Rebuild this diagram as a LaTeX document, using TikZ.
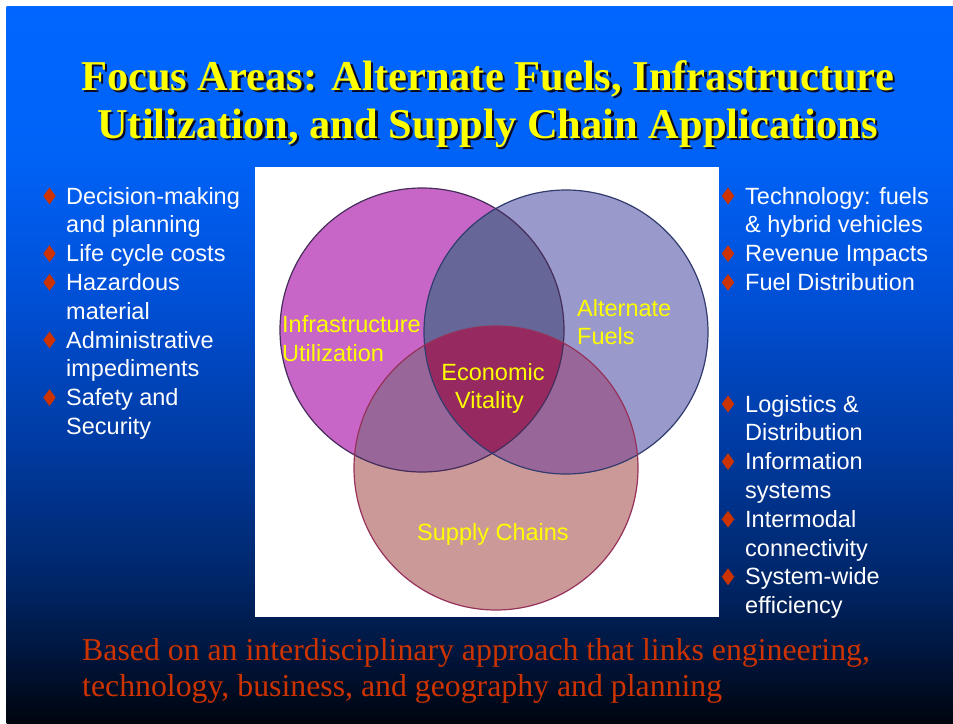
\documentclass[tikz,border=0pt]{standalone}
\usepackage{fontspec}
\setmainfont{Liberation Serif}
\newfontfamily\slideSans{Liberation Sans}
\usepackage{tikz}
\usetikzlibrary{positioning, shapes.geometric}
\definecolor{colorTitle}{RGB}{255,255,0}
\definecolor{colorTitleShadow}{RGB}{10,10,40}
\definecolor{colorBullet}{RGB}{204,51,0}
\definecolor{colorNote}{RGB}{204,51,0}
\definecolor{colorLabel}{RGB}{255,255,0}
\definecolor{colorInfra}{RGB}{200,102,200}
\definecolor{colorFuels}{RGB}{153,153,204}
\definecolor{colorSupply}{RGB}{204,153,153}
\definecolor{colorInfraFuels}{RGB}{102,102,153}
\definecolor{colorInfraSupply}{RGB}{153,102,153}
\definecolor{colorFuelsSupply}{RGB}{153,102,153}
\definecolor{colorCore}{RGB}{150,42,96}
\definecolor{colorInfraLine}{RGB}{70,45,90}
\definecolor{colorFuelsLine}{RGB}{50,60,110}
\definecolor{colorSupplyLine}{RGB}{150,50,90}
\definecolor{bgA}{RGB}{0,102,255}
\definecolor{bgB}{RGB}{0,99,248}
\definecolor{bgC}{RGB}{0,80,215}
\definecolor{bgD}{RGB}{0,60,165}
\definecolor{bgE}{RGB}{0,38,105}
\definecolor{bgF}{RGB}{0,22,62}
\definecolor{bgG}{RGB}{0,4,14}
\pgfdeclareverticalshading{slideBackground}{100bp}{color(0bp)=(bgG); color(25bp)=(bgG); color(30bp)=(bgF); color(35bp)=(bgE); color(45bp)=(bgD); color(55bp)=(bgC); color(65bp)=(bgB); color(75bp)=(bgA); color(100bp)=(bgA)}
\tikzset{
  titleText/.style={font=\bfseries\fontsize{42.5}{48}\selectfont, inner sep=0pt, anchor=base},
  itemText/.style={font=\slideSans\fontsize{23.5}{29}\selectfont, text=white, inner sep=0pt, anchor=base west},
  itemBullet/.style={shape=diamond, fill=colorBullet, inner sep=0pt, minimum width=12.5pt, minimum height=17pt},
  vennLabel/.style={font=\slideSans\fontsize{23.5}{29}\selectfont, text=colorLabel, inner sep=0pt},
  noteText/.style={font=\fontsize{31.8}{36}\selectfont, text=colorNote, inner sep=0pt, anchor=base west},
  vennEdge/.style={line width=1.2pt}
}

\begin{document}
\begin{tikzpicture}[x=1pt, y=-1pt]
\useasboundingbox (0,0) rectangle (953,723);
% slide background
\fill[white] (0,0) rectangle (953,723);
\shade[shading=slideBackground] (6.5,6.5) rectangle (953,723);

% title with its shadow
\node[titleText, text=colorTitleShadow] (titleShadowA) at (490,92.5) {Focus Areas: Alternate Fuels, Infrastructure};
\node[titleText, text=colorTitleShadow] (titleShadowB) at (490,140.5) {Utilization, and Supply Chain Applications};
\node[titleText, text=colorTitle] (titleA) at ([shift={(-2.5,-2.5)}]titleShadowA.base) {Focus Areas: Alternate Fuels, Infrastructure};
\node[titleText, text=colorTitle] (titleB) at ([shift={(-2.5,-2.5)}]titleShadowB.base) {Utilization, and Supply Chain Applications};

% left list
\node[itemText] (left1) at (66,204) {Decision-making};
\node[itemText, below=28.8pt of left1.base west, anchor=base west] (left2) {and planning};
\node[itemText, below=28.8pt of left2.base west, anchor=base west] (left3) {Life cycle costs};
\node[itemText, below=28.8pt of left3.base west, anchor=base west] (left4) {Hazardous};
\node[itemText, below=28.8pt of left4.base west, anchor=base west] (left5) {material};
\node[itemText, below=28.8pt of left5.base west, anchor=base west] (left6) {Administrative};
\node[itemText, below=28.8pt of left6.base west, anchor=base west] (left7) {impediments};
\node[itemText, below=28.8pt of left7.base west, anchor=base west] (left8) {Safety and};
\node[itemText, below=28.8pt of left8.base west, anchor=base west] (left9) {Security};
\node[itemBullet] (leftBullet1) at ([shift={(-16.5,-8)}]left1.base west) {};
\node[itemBullet] (leftBullet2) at ([shift={(-16.5,-8)}]left3.base west) {};
\node[itemBullet] (leftBullet3) at ([shift={(-16.5,-8)}]left4.base west) {};
\node[itemBullet] (leftBullet4) at ([shift={(-16.5,-8)}]left6.base west) {};
\node[itemBullet] (leftBullet5) at ([shift={(-16.5,-8)}]left8.base west) {};

% right list, upper group
\node[itemText] (right1) at (745,204) {Technology: fuels};
\node[itemText, below=28.8pt of right1.base west, anchor=base west] (right2) {\& hybrid vehicles};
\node[itemText, below=28.8pt of right2.base west, anchor=base west] (right3) {Revenue Impacts};
\node[itemText, below=28.8pt of right3.base west, anchor=base west] (right4) {Fuel Distribution};
\node[itemBullet] (rightBullet1) at ([shift={(-17,-8)}]right1.base west) {};
\node[itemBullet] (rightBullet2) at ([shift={(-17,-8)}]right3.base west) {};
\node[itemBullet] (rightBullet3) at ([shift={(-17,-8)}]right4.base west) {};

% right list, lower group
\node[itemText] (right5) at (745,412) {Logistics \&};
\node[itemText, below=28.8pt of right5.base west, anchor=base west] (right6) {Distribution};
\node[itemText, below=28.8pt of right6.base west, anchor=base west] (right7) {Information};
\node[itemText, below=28.8pt of right7.base west, anchor=base west] (right8) {systems};
\node[itemText, below=28.8pt of right8.base west, anchor=base west] (right9) {Intermodal};
\node[itemText, below=28.8pt of right9.base west, anchor=base west] (right10) {connectivity};
\node[itemText, below=28.8pt of right10.base west, anchor=base west] (right11) {System-wide};
\node[itemText, below=28.8pt of right11.base west, anchor=base west] (right12) {efficiency};
\node[itemBullet] (rightBullet4) at ([shift={(-17,-8)}]right5.base west) {};
\node[itemBullet] (rightBullet5) at ([shift={(-17,-8)}]right7.base west) {};
\node[itemBullet] (rightBullet6) at ([shift={(-17,-8)}]right9.base west) {};
\node[itemBullet] (rightBullet7) at ([shift={(-17,-8)}]right11.base west) {};

% venn panel
\fill[white] (255,167) rectangle (719,617);
\coordinate (cInfra) at (422,330);
\coordinate (cFuels) at (566,332);
\coordinate (cSupply) at (496,468);
\fill[colorInfra] (cInfra) circle[radius=142pt];
\fill[colorFuels] (cFuels) circle[radius=142pt];
\fill[colorSupply] (cSupply) circle[radius=142pt];
\begin{scope}
\clip (cInfra) circle[radius=142pt];
\fill[colorInfraFuels] (cFuels) circle[radius=142pt];
\fill[colorInfraSupply] (cSupply) circle[radius=142pt];
\end{scope}
\begin{scope}
\clip (cFuels) circle[radius=142pt];
\fill[colorFuelsSupply] (cSupply) circle[radius=142pt];
\clip (cInfra) circle[radius=142pt];
\fill[colorCore] (cSupply) circle[radius=142pt];
\end{scope}
\draw[vennEdge, colorInfraLine] (cInfra) circle[radius=142pt];
\draw[vennEdge, colorFuelsLine] (cFuels) circle[radius=142pt];
\draw[vennEdge, colorSupplyLine] (cSupply) circle[radius=142pt];

% venn labels
\node[vennLabel, anchor=base west] (infraA) at (282,332) {Infrastructure};
\node[vennLabel, below=29pt of infraA.base west, anchor=base west] (infraB) {Utilization};
\node[vennLabel, anchor=base west] (fuelsA) at (577,316) {Alternate};
\node[vennLabel, below=28pt of fuelsA.base west, anchor=base west] (fuelsB) {Fuels};
\node[vennLabel, anchor=base] (coreA) at (493,380) {Economic};
\node[vennLabel, anchor=base] (coreB) at (489.5,408) {Vitality};
\node[vennLabel, anchor=base] (supply) at (493,540) {Supply Chains};

% closing note
\node[noteText] (noteA) at (82,660) {Based on an interdisciplinary approach that links engineering,};
\node[noteText, below=36.5pt of noteA.base west, anchor=base west] (noteB) {technology, business, and geography and planning};
\end{tikzpicture}
\end{document}
